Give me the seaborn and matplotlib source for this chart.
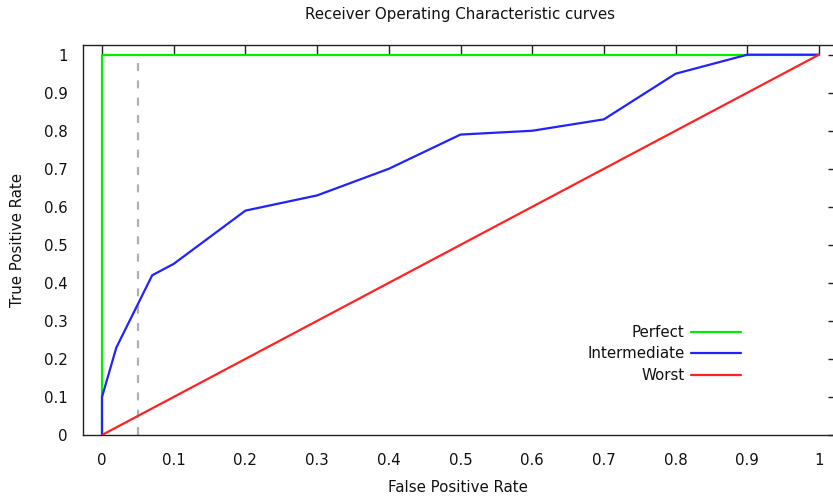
import matplotlib
matplotlib.use("Agg")
import matplotlib.pyplot as plt
import seaborn as sns
import pandas as pd

# ROC curves: false positive rate vs true positive rate
perfect_fpr = [0.0, 0.0, 1.0]
perfect_tpr = [0.0, 1.0, 1.0]

intermediate_fpr = [0.0, 0.0, 0.02, 0.07, 0.1, 0.2, 0.3, 0.4, 0.5, 0.6, 0.7, 0.8, 0.9, 1.0]
intermediate_tpr = [0.0, 0.1, 0.23, 0.42, 0.45, 0.59, 0.63, 0.7, 0.79, 0.8, 0.83, 0.95, 1.0, 1.0]

worst_fpr = [0.0, 1.0]
worst_tpr = [0.0, 1.0]

threshold_fpr = 0.05

x_ticks = [0, 0.1, 0.2, 0.3, 0.4, 0.5, 0.6, 0.7, 0.8, 0.9, 1]
y_ticks = [0, 0.1, 0.2, 0.3, 0.4, 0.5, 0.6, 0.7, 0.8, 0.9, 1]
tick_labels = ["0", "0.1", "0.2", "0.3", "0.4", "0.5", "0.6", "0.7", "0.8", "0.9", "1"]

sns.set_style("white")
plt.rcParams["font.family"] = ["DejaVu Sans"]
FS = 10.8
plt.rcParams["font.size"] = FS

W, H = 833, 501
fig = plt.figure(figsize=(W / 100, H / 100), dpi=100)
left, right, top, bottom = 83, 838, 45, 435
ax = fig.add_axes([left / W, 1 - bottom / H, (right - left) / W, (bottom - top) / H])

# dashed threshold marker
ax.plot([threshold_fpr, threshold_fpr], [0, 1], color="#b0b0b0", lw=1.6,
        dashes=(3.6, 4.2), zorder=1)

curves = [
    ("Perfect", perfect_fpr, perfect_tpr, "#00ee00"),
    ("Intermediate", intermediate_fpr, intermediate_tpr, "#2222ff"),
    ("Worst", worst_fpr, worst_tpr, "#ff2222"),
]
for name, xs, ys, col in curves:
    df = pd.DataFrame({"fpr": xs, "tpr": ys})
    sns.lineplot(data=df, x="fpr", y="tpr", sort=False, estimator=None,
                 color=col, lw=1.6, label=name, ax=ax, zorder=2)

ax.set_xlim(-0.0265, 1.0265)
ax.set_ylim(0, 1.0255)
ax.set_xticks(x_ticks)
ax.set_xticklabels(tick_labels)
ax.set_yticks(y_ticks)
ax.set_yticklabels(tick_labels)

ax.tick_params(axis="both", direction="in", length=7, width=1, color="#222222",
               top=True, right=True, labelsize=FS, labelcolor="#111111")
ax.tick_params(axis="x", pad=13)
ax.tick_params(axis="y", pad=11)
for sp in ax.spines.values():
    sp.set_visible(True)
    sp.set_color("#222222")
    sp.set_linewidth(1.0)

ax.set_xlabel("False Positive Rate", fontsize=FS, color="#111111")
ax.set_ylabel("True Positive Rate", fontsize=FS, color="#111111")
ax.xaxis.set_label_coords((458 - left) / (right - left), (bottom - 480) / (bottom - top))
ax.yaxis.set_label_coords((25 - left) / (right - left), 0.5)
ax.text(0.5, 1 + 30 / (bottom - top), "Receiver Operating Characteristic curves",
        transform=ax.transAxes, ha="center", va="center", fontsize=FS, color="#111111")

leg = ax.legend(loc="center right", bbox_to_anchor=((741 - left) / (right - left), (bottom - 354) / (bottom - top)),
                frameon=False, markerfirst=False, handlelength=3.3, handletextpad=0.45,
                labelspacing=0.42, fontsize=FS, borderaxespad=0, borderpad=0)
for t in leg.get_texts():
    t.set_ha("right")
    t.set_color("#111111")

fig.savefig("out.png", dpi=100)
